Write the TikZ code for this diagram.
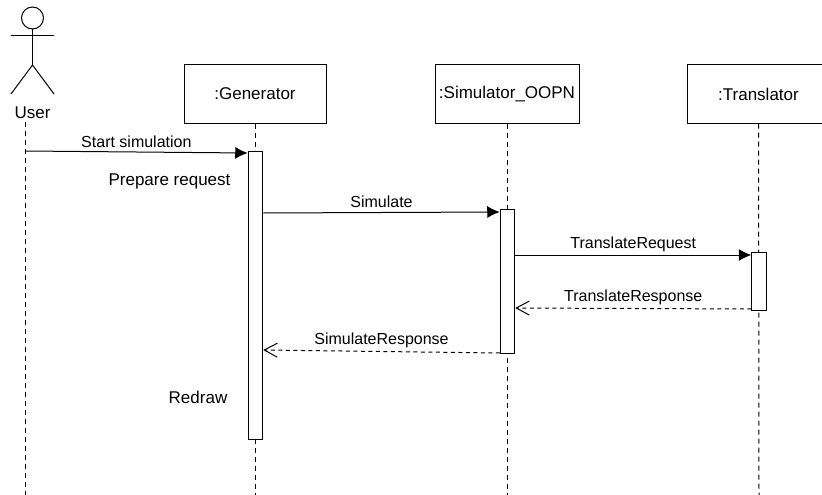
\documentclass[tikz,border=0pt]{standalone}
\usepackage{fontspec}
\setmainfont{Liberation Sans}
\usetikzlibrary{arrows.meta}
\begin{document}
\begin{tikzpicture}[x=1pt,y=-1pt,line width=1pt]
\tikzstyle{every node}=[font=\fontsize{16}{18}\selectfont, inner sep=0pt]
\tikzstyle{lifebox}=[draw, fill=white, minimum width=142pt, minimum height=58pt, font=\fontsize{17}{20}\selectfont]
\tikzstyle{active}=[draw, fill=white, minimum width=14.5pt, anchor=north]
\tikzstyle{lifeline}=[dash pattern=on 5pt off 4pt]
\tikzstyle{call}=[-{Latex[length=12.5pt,width=12pt]}]
\tikzstyle{reply}=[dash pattern=on 4pt off 3.5pt, -{Straight Barb[length=13pt,width=14pt]}]
\tikzstyle{note}=[font=\fontsize{17}{20}\selectfont]
\useasboundingbox (0,0) rectangle (822,495);
% user
  \draw (32.5,18) circle (11);
  \draw (32.5,29) -- (32.5,65) (11,36) -- (54,36);
  \draw (11,94) -- (32.5,65) -- (54,94);
  \node[note] (user) at (32.5,113) {User};
  \coordinate (userend) at (25,495);
  \coordinate (usertop) at (25,122);
  \coordinate (userstart) at (25,151);
% boxes
  \node[lifebox] (gen) at (255,94) {:Generator};
  \node[lifebox, minimum width=144pt] (sim) at (507,94) {:Simulator\_OOPN};
  \node[lifebox] (trans) at (758.5,94) {:Translator};
% lifelines
  \coordinate (genend) at (255,495);
  \coordinate (simend) at (507,495);
  \coordinate (transend) at (759,495);
  \draw[lifeline] (usertop) -- (userend);
  \draw[lifeline] (gen.south) -- (genend);
  \draw[lifeline] (sim.south) -- (simend);
  \draw[lifeline] (trans.south) -- (transend);
% activations
  \node[active, minimum height=288pt] (genact) at (255.5,151) {};
  \node[active, minimum height=144pt] (simact) at (507.5,209) {};
  \node[active, minimum height=58pt] (transact) at (759,252) {};
%%%%%%%%%%%%%%%%
\draw[call] (userstart) -- node[midway, above=4pt] {Start simulation} (genact.north west |- 0,153);
\draw[call] (genact.east |- 0,213) -- node[midway, above=4pt] {Simulate} (simact.west |- 0,212);
\draw[call] (simact.east |- 0,255) -- node[midway, above=3pt] {TranslateRequest} (transact.west |- 0,255);
\draw[reply] (transact.west |- 0,309) -- node[midway, above=3.5pt] {TranslateResponse} (simact.east |- 0,308);
\draw[reply] (simact.west |- 0,353) -- node[midway, above=3pt] {SimulateResponse} (genact.east |- 0,350);
% notes
  \node[note] (prepare) at (169.5,181) {Prepare request};
  \node[note] (redraw) at (198,397) {Redraw};
\end{tikzpicture}
\end{document}
